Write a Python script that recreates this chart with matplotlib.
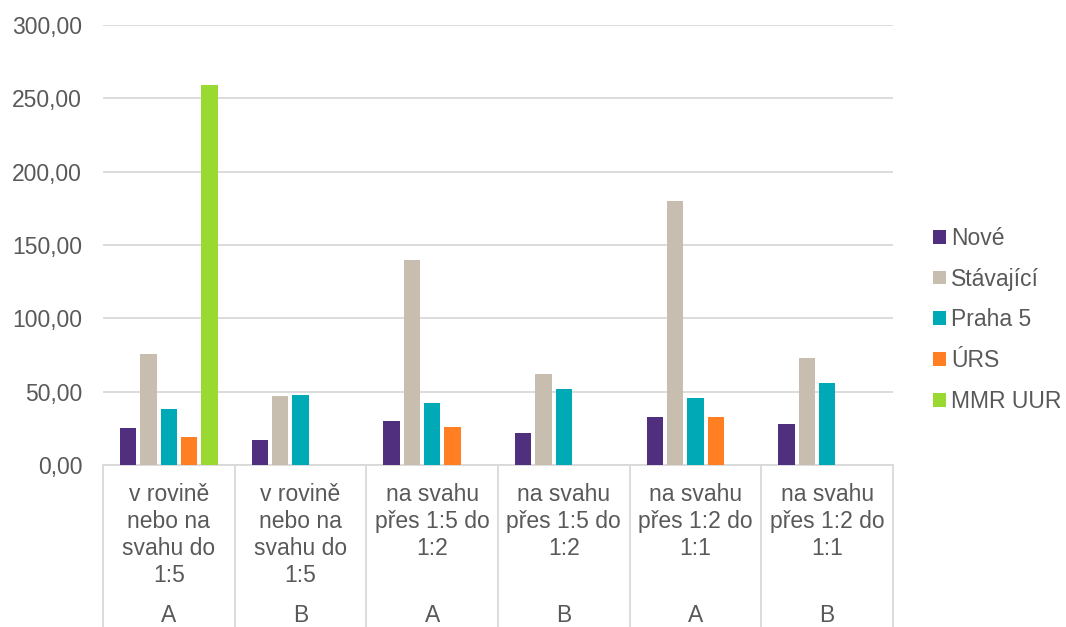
import matplotlib
matplotlib.use("Agg")
import matplotlib.pyplot as plt
import matplotlib.transforms as mtransforms
from matplotlib.ticker import FuncFormatter, MultipleLocator
import numpy as np

plt.rcParams['font.family'] = ['Liberation Sans', 'DejaVu Sans']

categories = ["v rovině\nnebo na\nsvahu do\n1:5", "v rovině\nnebo na\nsvahu do\n1:5",
              "na svahu\npřes 1:5 do\n1:2", "na svahu\npřes 1:5 do\n1:2",
              "na svahu\npřes 1:2 do\n1:1", "na svahu\npřes 1:2 do\n1:1"]
groups = ["A", "B", "A", "B", "A", "B"]
series = ["Nové", "Stávající", "Praha 5", "ÚRS", "MMR UUR"]
nove = [25, 17, 30, 22, 33, 28]
stavajici = [76, 47, 140, 62, 180, 73]
praha5 = [38, 48, 42, 52, 46, 56]
urs = [19, np.nan, 26, np.nan, 33, np.nan]
mmr = [259, np.nan, np.nan, np.nan, np.nan, np.nan]
values = [nove, stavajici, praha5, urs, mmr]
colors = ["#512F7F", "#C8BEAF", "#00A9B6", "#FF7F22", "#9AD832"]

FS = 16.5
TC = '#595959'

fig = plt.figure(figsize=(10.66, 6.27), dpi=100)
ax = fig.add_axes([103/1066, 1 - 465/627, (893-103)/1066, 440/627])

x = np.arange(len(categories))
slot = 0.1544
bw = 0.122
for i, (name, vals, c) in enumerate(zip(series, values, colors)):
    ax.bar(x + (i - 2) * slot, vals, width=bw, color=c, label=name, zorder=3)

ax.set_xlim(-0.5, len(categories) - 0.5)
ax.set_ylim(0, 300)
ax.yaxis.set_major_locator(MultipleLocator(50))
ax.yaxis.set_major_formatter(FuncFormatter(lambda v, p: f"{v:.2f}".replace(".", ",")))
ax.grid(axis='y', color='#D9D9D9', linewidth=1.3, zorder=0)
for s in ['top', 'right', 'left']:
    ax.spines[s].set_visible(False)
ax.spines['bottom'].set_color('#D9D9D9')
ax.spines['bottom'].set_linewidth(1.3)
ax.tick_params(axis='y', length=0, labelsize=FS, labelcolor=TC, pad=15)
ax.tick_params(axis='x', length=0, labelbottom=False)

trans = mtransforms.blended_transform_factory(ax.transData, ax.transAxes)
bottom = -(627 - 465) / 440
for b in np.arange(-0.5, len(categories)):
    ax.plot([b, b], [0, bottom], transform=trans, color='#D9D9D9', linewidth=1.3, clip_on=False)
for i, (lab, g) in enumerate(zip(categories, groups)):
    ax.text(i, -0.041, lab, transform=trans, ha='center', va='top', fontsize=FS,
            color=TC, linespacing=1.22)
    ax.text(i, -(615 - 465) / 440, g, transform=trans, ha='center', va='center',
            fontsize=FS, color=TC)

handles, labels = ax.get_legend_handles_labels()
fig.legend(handles, labels, loc='center left', bbox_to_anchor=(933/1066, 1 - 320/627),
           frameon=False, fontsize=FS, labelcolor=TC, handlelength=0.55,
           handleheight=0.55, handletextpad=0.25, labelspacing=0.78, borderaxespad=0,
           borderpad=0)

fig.savefig("out.png", dpi=100)
